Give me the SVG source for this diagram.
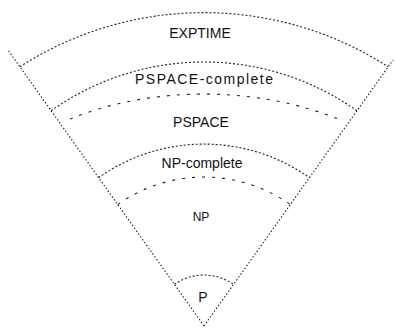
<svg xmlns="http://www.w3.org/2000/svg" width="395" height="328" viewBox="0 0 395 328">
<style>
.side{fill:none;stroke:#222;stroke-width:1.1;stroke-dasharray:1.5 2}
.arc{fill:none;stroke:#222;stroke-width:1.1;stroke-dasharray:2 2}
.sparse{fill:none;stroke:#222;stroke-width:1.1;stroke-dasharray:3 7}
.lbl{font-family:"Liberation Sans",Arial,sans-serif;font-size:14px;fill:#111;text-anchor:middle}
</style>
<rect width="395" height="328" fill="#fff"/>
<g id="connectors">
<path class="side" d="M204,326 L8,50"/>
<path class="side" d="M204,326 L393,60"/>
</g>
<g id="exptime">
<path class="arc" d="M19.9,66.8 A340,340 0 0 1 388.1,66.8"/>
<text class="lbl" x="200" y="38">EXPTIME</text>
</g>
<g id="pspace-complete">
<path class="arc" d="M51.1,110.8 A264,264 0 0 1 356.9,110.8"/>
<path class="sparse" d="M70,119 A250,160 0 0 1 338,119"/>
<text class="lbl" x="204" y="84" textLength="138" lengthAdjust="spacing">PSPACE-complete</text>
</g>
<g id="pspace">
<text class="lbl" x="201" y="127">PSPACE</text>
</g>
<g id="np-complete">
<path class="arc" d="M98.6,177.7 A182,182 0 0 1 309.4,177.7"/>
<path class="sparse" d="M117.7,204.6 A149,149 0 0 1 290.3,204.6"/>
<text class="lbl" x="202" y="168">NP-complete</text>
</g>
<g id="np">
<text class="lbl" x="201" y="221" style="font-size:12px">NP</text>
</g>
<g id="p">
<path class="arc" d="M174.5,284.4 A51,51 0 0 1 233.5,284.4"/>
<text class="lbl" x="203" y="302">P</text>
</g>
</svg>
